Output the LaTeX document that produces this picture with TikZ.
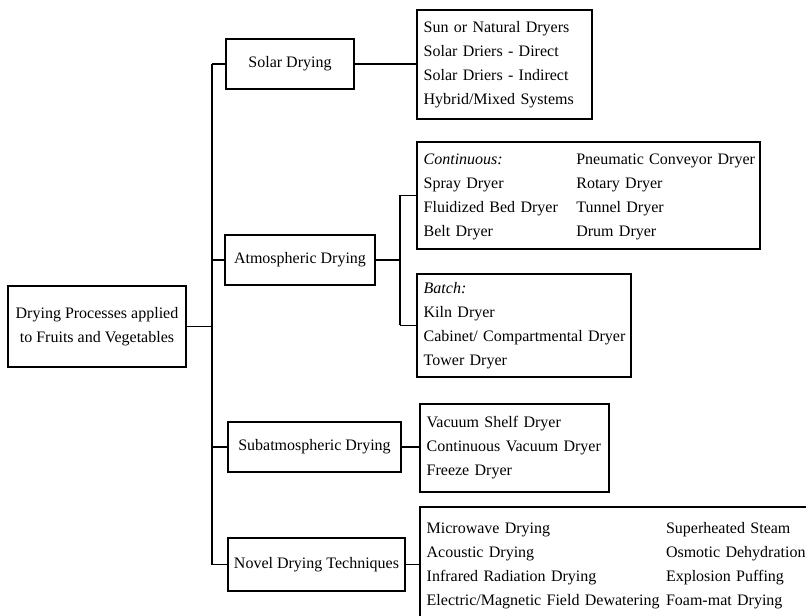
\documentclass[tikz,border=0pt]{standalone}
\usepackage{fontspec}
\setmainfont{Liberation Serif}
\usetikzlibrary{calc, positioning}

\begin{document}
\begin{tikzpicture}[x=0.75pt, y=-0.75pt, line width=0.9pt,
    font=\fontsize{12}{18}\selectfont,
    catbox/.style={draw, align=center, inner sep=0pt},
    listbox/.style={draw, align=left, inner xsep=5pt, inner ysep=0pt}]
    \clip (0,0) rectangle (806,616);
    % root and the four kinds of drying
    \node[catbox, minimum width=133.5pt, minimum height=60.75pt] (root) at (97,326.5)
      {Drying Processes applied\\to Fruits and Vegetables};
    \node[catbox, minimum width=96pt, minimum height=37.5pt] (sol) at (290,64)
      {Solar Drying};
    \node[catbox, minimum width=112.5pt, minimum height=37.5pt] (atm) at (300,260)
      {Atmospheric Drying};
    \node[catbox, minimum width=129.75pt, minimum height=37.5pt] (sub) at (314.5,447)
      {Subatmospheric Drying};
    \node[catbox, minimum width=132.75pt, minimum height=39.75pt] (nov) at (316.5,564.5)
      {Novel Drying Techniques};
    % lists of dryers
    \node[listbox, text width=121.25pt, minimum height=81.75pt] (sollist) at (504.5,64.5)
      {Sun or Natural Dryers\\Solar Driers - Direct\\Solar Driers - Indirect\\Hybrid/Mixed Systems};
    \node[listbox, text width=247.25pt, minimum height=80.25pt] (cont) at (588.5,195.5)
      {\begin{tabular}{@{}p{114.5pt}@{}l@{}}
        \textit{Continuous:} & Pneumatic Conveyor Dryer\\
        Spray Dryer & Rotary Dryer\\
        Fluidized Bed Dryer & Tunnel Dryer\\
        Belt Dryer & Drum Dryer
       \end{tabular}};
    \node[listbox, text width=150.5pt, minimum height=77.25pt] (batch) at (524,325.5)
      {\textit{Batch:}\\Kiln Dryer\\\mbox{Cabinet/ Compartmental Dryer}\\Tower Dryer};
    \node[listbox, text width=131.75pt, minimum height=66pt] (vac) at (514.5,448)
      {Vacuum Shelf Dryer\\Continuous Vacuum Dryer\\Freeze Dryer};
    \node[listbox, text width=297.5pt, minimum height=86.25pt] (novlist) at (625,564.5)
      {\begin{tabular}{@{}p{179.5pt}@{}l@{}}
        Microwave Drying & Superheated Steam\\
        Acoustic Drying & Osmotic Dehydration\\
        Infrared Radiation Drying & Explosion Puffing\\
        Electric/Magnetic Field Dewatering & Foam-mat Drying
       \end{tabular}};
    % connectors
    \coordinate (trk) at (212,326.5);
    \coordinate (brn) at (400,260);
    \draw (root.east) -- (trk);
    \draw (sol.west -| trk) -- (nov.west -| trk);
    \foreach \k in {sol, atm, sub, nov}
      \draw (\k.west) -- (\k.west -| trk);
    \draw (sol.east) -- (sol.east -| sollist.west);
    \draw (atm.east) -- (brn);
    \draw (cont.west -| brn) -- (batch.west -| brn);
    \draw (cont.west -| brn) -- (cont.west);
    \draw (batch.west -| brn) -- (batch.west);
    \draw (sub.east) -- (sub.east -| vac.west);
    \draw (nov.east) -- (nov.east -| novlist.west);
  \end{tikzpicture}
\end{document}
